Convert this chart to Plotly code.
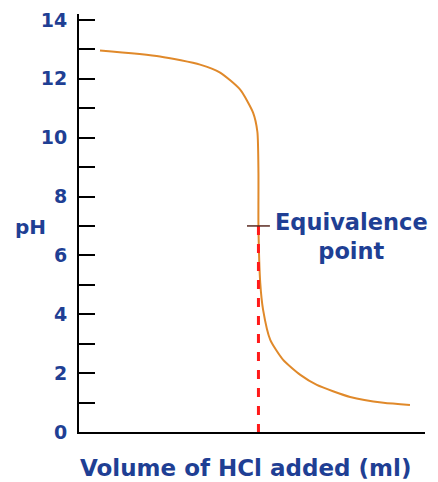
import plotly.graph_objects as go

volume_ml = [2.93, 11.3, 16.9, 19.7, 22.5, 24.3, 24.9, 25.05, 25.05, 25.3, 25.7, 26.7, 28.5, 30.9, 33.2, 37.85, 42.5, 46.2]
ph_values = [12.96, 12.76, 12.48, 12.21, 11.63, 10.85, 10.2, 8.8, 7.0, 5.07, 4.15, 3.13, 2.45, 1.94, 1.6, 1.19, 0.99, 0.92]
equiv_volume = 25.05
equiv_ph = 7.0
y_tick_vals = [0, 2, 4, 6, 8, 10, 12, 14]
y_tick_text = ["0", "2", "4", "6", "8", "10", "12", "14"]

blue = "#1f3f94"
font_family = "DejaVu Sans, Verdana, sans-serif"

fig = go.Figure()
fig.add_trace(go.Scatter(x=volume_ml, y=ph_values, mode="lines",
                         line=dict(color="#e0892a", width=2, shape="spline", smoothing=0.6),
                         hoverinfo="skip", showlegend=False))
fig.add_trace(go.Scatter(x=[equiv_volume, equiv_volume], y=[equiv_ph, 0], mode="lines",
                         line=dict(color="#ff1a1a", width=3, dash="dash"),
                         hoverinfo="skip", showlegend=False))
fig.add_trace(go.Scatter(x=[equiv_volume - 1.6, equiv_volume + 1.6], y=[equiv_ph, equiv_ph], mode="lines",
                         line=dict(color="#5a2a20", width=1.5),
                         hoverinfo="skip", showlegend=False))

fig.update_layout(
    width=430, height=474,
    margin=dict(l=71, r=13, t=6, b=50, autoexpand=False),
    plot_bgcolor="white", paper_bgcolor="white",
    font=dict(family=font_family, color=blue),
    xaxis=dict(range=[0, 48.3], showgrid=False, zeroline=False, showline=True, automargin=False,
               linecolor="black", linewidth=2, showticklabels=False, ticks=""),
    yaxis=dict(range=[0, 14.2], showgrid=False, zeroline=False, showline=True, automargin=False,
               linecolor="black", linewidth=2, tickvals=y_tick_vals,
               ticktext=["<b>%s</b>" % t for t in y_tick_text],
               ticks="inside", ticklen=16, tickwidth=2, tickcolor="black",
               tickfont=dict(size=19, color=blue), ticklabelstandoff=6,
               minor=dict(dtick=1, tick0=0, ticks="inside", ticklen=16, tickwidth=2, tickcolor="black")),
    annotations=[
        dict(text="<b>Volume of HCl added (ml)</b>", xref="paper", yref="paper", x=0.48, y=0,
             yshift=-36, xanchor="center", yanchor="middle", showarrow=False,
             font=dict(size=23, color=blue)),
        dict(text="<b>pH</b>", xref="paper", yref="paper", x=-0.19, y=0.49,
             xanchor="left", yanchor="middle", showarrow=False,
             font=dict(size=20, color=blue)),
        dict(text="<b>Equivalence<br>point</b>", xref="x", yref="y", x=38.0, y=6.65,
             xanchor="center", yanchor="middle", showarrow=False, align="center",
             font=dict(size=22.5, color=blue)),
    ],
)

fig.write_html("out.html")
